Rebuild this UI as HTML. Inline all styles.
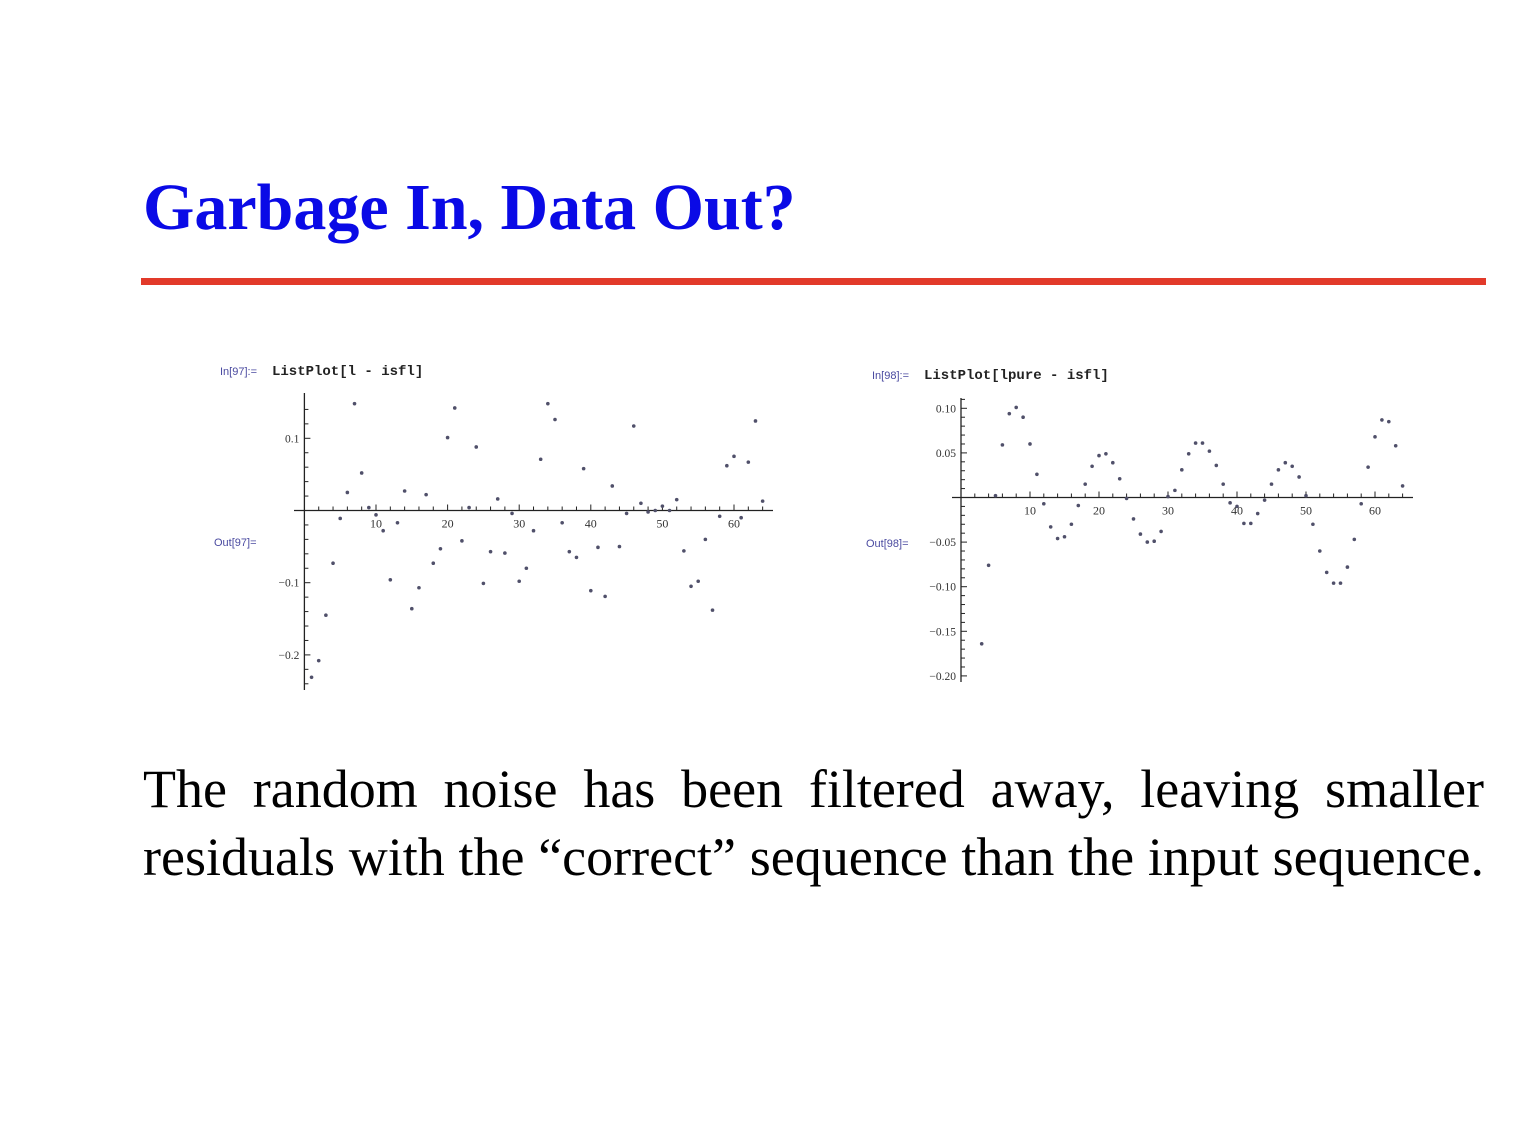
<!DOCTYPE html>
<html><head><meta charset="utf-8">
<style>
body{margin:0;background:#fff;width:1528px;height:1124px;overflow:hidden;position:relative;font-family:"Liberation Serif",serif}
#title{position:absolute;left:143px;top:175px;font-size:66px;font-weight:bold;color:#0a0ae6;margin:0;line-height:1}
#rule{position:absolute;left:141px;top:278px;width:1345px;height:7px;background:#e23a2a}
.body{position:absolute;left:143px;width:1341px;font-size:54px;color:#000;text-align:justify;text-align-last:justify;line-height:1;white-space:nowrap}
svg{position:absolute;left:0;top:0}
</style></head><body>
<h1 id="title">Garbage In, Data Out?</h1>
<div id="rule"></div>
<svg id="chart" width="1528" height="1124"></svg>
<div class="body" style="top:762px">The random noise has been filtered away, leaving smaller</div>
<div class="body" style="top:830px">residuals with the “correct” sequence than the input sequence.</div>
<script>
const leftX = [];
for (let i = 1; i <= 64; i++) leftX.push(i);
const leftValues = [-0.231,-0.208,-0.145,-0.073,-0.011,0.025,0.148,0.052,0.004,-0.006,-0.028,-0.096,-0.017,0.027,-0.136,-0.107,0.022,-0.073,-0.053,0.101,0.142,-0.042,0.004,0.088,-0.101,-0.057,0.016,-0.059,-0.004,-0.098,-0.080,-0.028,0.071,0.148,0.126,-0.017,-0.057,-0.065,0.058,-0.111,-0.051,-0.119,0.034,-0.050,-0.004,0.117,0.010,-0.002,0.0,0.006,0.0,0.015,-0.056,-0.105,-0.098,-0.040,-0.138,-0.008,0.062,0.075,-0.010,0.067,0.124,0.013];
const rightValues = [null,null,-0.164,-0.076,0.002,0.059,0.094,0.101,0.090,0.060,0.026,-0.007,-0.033,-0.046,-0.044,-0.030,-0.009,0.015,0.035,0.047,0.049,0.039,0.021,-0.001,-0.024,-0.041,-0.050,-0.049,-0.038,0.001,0.008,0.031,0.049,0.061,0.061,0.052,0.036,0.015,-0.006,-0.010,-0.029,-0.029,-0.018,-0.003,0.015,0.031,0.039,0.035,0.023,0.002,-0.030,-0.060,-0.084,-0.096,-0.096,-0.078,-0.047,-0.007,0.034,0.068,0.087,0.085,0.058,0.013];
const leftXTicks = ["10","20","30","40","50","60"];
const leftYTicks = ["0.1","-0.1","-0.2"];
const rightYTicks = ["0.10","0.05","-0.05","-0.10","-0.15","-0.20"];

const svg = document.getElementById('chart');
const NS = 'http://www.w3.org/2000/svg';
function mk(tag, attrs, parent){const e=document.createElementNS(NS,tag);for(const k in attrs)e.setAttribute(k,attrs[k]);(parent||svg).appendChild(e);return e;}

function panel(cfg){
  const g = mk('g',{});
  
  
  const sx = v => cfg.x0 + v*cfg.kx, sy = v => cfg.y0 - v*cfg.ky;
  const inl = mk('text',{x:cfg.inX,y:cfg.inY,'font-family':'Liberation Sans, sans-serif','font-size':11,fill:'#4a4aa0'},g);
  inl.textContent = cfg.inLabel;
  
  
  const cmd = mk('text',{x:cfg.inX+52,y:cfg.inY,'font-family':'Liberation Mono, monospace','font-size':14,'font-weight':'bold',fill:'#222'},g);
  cmd.textContent = cfg.cmd;
  
  
  const out = mk('text',{x:cfg.outX,y:cfg.outY,'font-family':'Liberation Sans, sans-serif','font-size':11,fill:'#4a4aa0'},g);
  out.textContent = cfg.outLabel;
  
  
  const xa = mk('line',{x1:cfg.xaFrom,x2:cfg.xaTo,y1:sy(0),y2:sy(0),stroke:'#222','stroke-width':1.3},g);
  
  
  const ya = mk('line',{x1:sx(0),x2:sx(0),y1:cfg.yaTop,y2:cfg.yaBot,stroke:'#222','stroke-width':1.3},g);
  
  
  for(let i=2;i<=64;i+=2){const maj=i%10===0;mk('line',{x1:sx(i),x2:sx(i),y1:sy(0),y2:sy(0)-(maj?6:4),stroke:'#222','stroke-width':1},g);}
  leftXTicks.forEach(t=>{const v=+t;const e=mk('text',{x:sx(v),y:sy(0)+17,'text-anchor':'middle','font-size':12,fill:'#333'},g);e.textContent=t;
    
    });
  for(let v=cfg.yMin;v<=cfg.yMax+1e-9;v+=cfg.yMinor){const r=Math.round(v/cfg.yMajor);const maj=Math.abs(v-r*cfg.yMajor)<1e-6;mk('line',{x1:sx(0),x2:sx(0)+(maj?6:4),y1:sy(v),y2:sy(v),stroke:'#222','stroke-width':1},g);}
  cfg.yTicks.forEach(t=>{const v=+t;const e=mk('text',{x:sx(0)-5,y:sy(v)+4,'text-anchor':'end','font-size':11.5,fill:'#333'},g);e.textContent=t.replace('-','\u2212');
    
    });
  cfg.vals.forEach((v,i)=>{if(v===null)return;const c=mk('circle',{cx:sx(leftX[i]),cy:sy(v),r:1.8,fill:'#50506a'},g);
    
    });
}
panel({name:'left-listplot',x0:304.4,kx:7.16,y0:510.5,ky:722,xaFrom:294,xaTo:773,yaTop:393,yaBot:690,yMin:-0.24,yMax:0.14,yMinor:0.02,yMajor:0.1,yTicks:leftYTicks,vals:leftValues,inX:220,inY:375,outX:214,outY:546,inLabel:'In[97]:=',outLabel:'Out[97]=',cmd:'ListPlot[l - isfl]'});
panel({name:'right-listplot',x0:961,kx:6.9,y0:497.5,ky:892,xaFrom:952,xaTo:1413,yaTop:398,yaBot:682,yMin:-0.2,yMax:0.11,yMinor:0.01,yMajor:0.05,yTicks:rightYTicks,vals:rightValues,inX:872,inY:379,outX:866,outY:547,inLabel:'In[98]:=',outLabel:'Out[98]=',cmd:'ListPlot[lpure - isfl]'});
</script>
</body></html>
